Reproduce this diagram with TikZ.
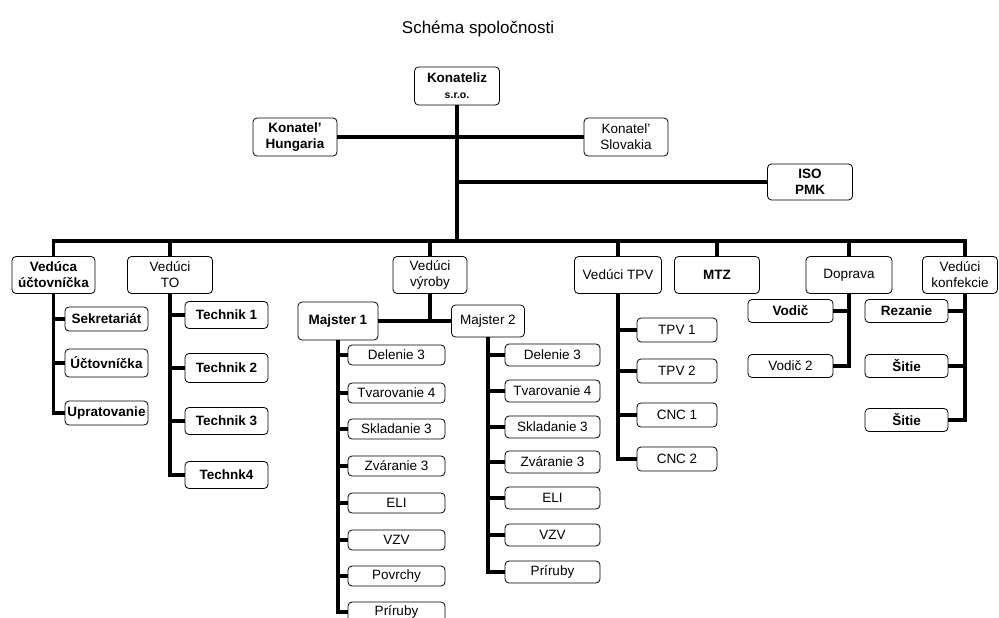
\documentclass[tikz,border=0pt]{standalone}
\usepackage{fontspec}
\setmainfont{Liberation Sans}
\tikzset{
	orgbox/.style 2 args={
		rectangle,
		rounded corners=4pt,
		draw=black, line width=0.8pt,
		fill=white,
		minimum width=#1,
		minimum height=#2,
		inner sep=1pt,
		align=center,
		font=\fontsize{13.5}{16}\selectfont},
	strong/.style={font=\fontsize{13.5}{16}\selectfont\bfseries},
	link/.style={draw, line width=3.5pt},
}
\begin{document}
\begin{tikzpicture}[x=1pt,y=-1pt]
	\useasboundingbox (0,0) rectangle (999,618);
	\node[font=\fontsize{17}{19}\selectfont] (title) at (478,29) {Schéma spoločnosti};

	% vedenie
	\node[orgbox={85pt}{38pt}, strong] (konateliz) at (457,86) {Konateliz\\{\fontsize{10.5}{12}\selectfont s.r.o.}};
	\node[orgbox={84pt}{38pt}, strong] (hungaria) at (295,137) {Konatel'\\Hungaria};
	\node[orgbox={84pt}{38pt}] (slovakia) at (626,137) {Konatel'\\Slovakia};
	\node[orgbox={85pt}{36pt}, strong] (iso) at (810,182) {ISO\\PMK};
	\coordinate (bus) at (457,241);

	\node[orgbox={83pt}{37pt}, strong] (veducua) at (53.5,275) {Vedúca\\účtovníčka};
	\node[orgbox={85pt}{37pt}] (vedto) at (170,275) {Vedúci\\TO};
	\node[orgbox={74pt}{37pt}] (vedvyroby) at (430,275) {Vedúci\\výroby};
	\node[orgbox={87pt}{37pt}] (vedtpv) at (618,275) {Vedúci TPV};
	\node[orgbox={85pt}{37pt}, strong] (mtz) at (717,275) {MTZ};
	\node[orgbox={86pt}{37pt}] (doprava) at (849,275) {Doprava};
	\node[orgbox={75pt}{37pt}] (vedkonf) at (960,275) {Vedúci\\konfekcie};
	\coordinate (konftop) at ([xshift=5pt]vedkonf.north);
	\coordinate (konfdrop) at ([xshift=5pt]vedkonf.south);

	\draw[link] (konateliz.south) -- (bus);
	\draw[link] (hungaria.east) -- (slovakia.west);
	\draw[link] (iso.west) -- (iso.west -| konateliz.south);
	\draw[link] (veducua.north) |- (bus);
	\draw[link] (konftop) |- (bus);
	\draw[link] (vedto.north) -- (vedto.north |- bus);
	\draw[link] (vedvyroby.north) -- (vedvyroby.north |- bus);
	\draw[link] (vedtpv.north) -- (vedtpv.north |- bus);
	\draw[link] (mtz.north) -- (mtz.north |- bus);
	\draw[link] (doprava.north) -- (doprava.north |- bus);

	% uctovnictvo
	\node[orgbox={83pt}{24pt}, strong] (sekretariat) at (106.5,319) {Sekretariát};
	\node[orgbox={83pt}{28pt}, strong] (uctovnicka) at (106.5,363) {Účtovníčka};
	\node[orgbox={83pt}{24pt}, strong] (upratovanie) at (106.5,413) {Upratovanie};
	\draw[link] (veducua.south) |- (upratovanie.west);
	\draw[link] (sekretariat.west) -- (sekretariat.west -| veducua.south);
	\draw[link] (uctovnicka.west) -- (uctovnicka.west -| veducua.south);

	% TO
	\node[orgbox={83pt}{27pt}, strong] (technik1) at (226.5,315) {Technik 1};
	\node[orgbox={83pt}{29pt}, strong] (technik2) at (226.5,368) {Technik 2};
	\node[orgbox={83pt}{27pt}, strong] (technik3) at (226.5,421) {Technik 3};
	\node[orgbox={83pt}{27pt}, strong] (technik4) at (226.5,475) {Technk4};
	\draw[link] (vedto.south) |- (technik4.west);
	\draw[link] (technik1.west) -- (technik1.west -| vedto.south);
	\draw[link] (technik2.west) -- (technik2.west -| vedto.south);
	\draw[link] (technik3.west) -- (technik3.west -| vedto.south);

	% vyroba
	\node[orgbox={80pt}{38pt}, strong] (majster1) at (338,321) {Majster 1};
	\node[orgbox={73pt}{32pt}] (majster2) at (488,321) {Majster 2};
	\draw[link] (majster1.east) -- (majster2.west);
	\draw[link] (vedvyroby.south) -- (vedvyroby.south |- majster1.east);

	\node[orgbox={97pt}{20pt}] (mjadelenie) at (396.5,355) {Delenie 3};
	\node[orgbox={97pt}{20pt}] (mjatvar) at (396.5,393) {Tvarovanie 4};
	\node[orgbox={97pt}{20pt}] (mjasklad) at (396.5,429) {Skladanie 3};
	\node[orgbox={97pt}{20pt}] (mjazvar) at (396.5,466) {Zváranie 3};
	\node[orgbox={97pt}{20pt}] (mjaeli) at (396.5,503) {ELI};
	\node[orgbox={97pt}{20pt}] (mjavzv) at (396.5,540) {VZV};
	\node[orgbox={97pt}{20pt}] (mjapovrchy) at (396.5,576) {Povrchy};
	\node[orgbox={97pt}{20pt}] (mjapriruby) at (396.5,612) {Príruby};
	\draw[link] (majster1.south) |- (mjapriruby.west);
	\draw[link] (mjadelenie.west) -- (mjadelenie.west -| majster1.south);
	\draw[link] (mjatvar.west) -- (mjatvar.west -| majster1.south);
	\draw[link] (mjasklad.west) -- (mjasklad.west -| majster1.south);
	\draw[link] (mjazvar.west) -- (mjazvar.west -| majster1.south);
	\draw[link] (mjaeli.west) -- (mjaeli.west -| majster1.south);
	\draw[link] (mjavzv.west) -- (mjavzv.west -| majster1.south);
	\draw[link] (mjapovrchy.west) -- (mjapovrchy.west -| majster1.south);

	\node[orgbox={95pt}{22pt}] (mjbdelenie) at (552.5,355) {Delenie 3};
	\node[orgbox={95pt}{22pt}] (mjbtvar) at (552.5,391) {Tvarovanie 4};
	\node[orgbox={95pt}{22pt}] (mjbsklad) at (552.5,427) {Skladanie 3};
	\node[orgbox={95pt}{22pt}] (mjbzvar) at (552.5,462) {Zváranie 3};
	\node[orgbox={95pt}{22pt}] (mjbeli) at (552.5,498) {ELI};
	\node[orgbox={95pt}{22pt}] (mjbvzv) at (552.5,535) {VZV};
	\node[orgbox={95pt}{22pt}] (mjbpriruby) at (552.5,572) {Príruby};
	\draw[link] (majster2.south) |- (mjbpriruby.west);
	\draw[link] (mjbdelenie.west) -- (mjbdelenie.west -| majster2.south);
	\draw[link] (mjbtvar.west) -- (mjbtvar.west -| majster2.south);
	\draw[link] (mjbsklad.west) -- (mjbsklad.west -| majster2.south);
	\draw[link] (mjbzvar.west) -- (mjbzvar.west -| majster2.south);
	\draw[link] (mjbeli.west) -- (mjbeli.west -| majster2.south);
	\draw[link] (mjbvzv.west) -- (mjbvzv.west -| majster2.south);

	% TPV
	\node[orgbox={80pt}{24pt}] (tpv1) at (677,330) {TPV 1};
	\node[orgbox={80pt}{24pt}] (tpv2) at (677,371) {TPV 2};
	\node[orgbox={80pt}{24pt}] (cnc1) at (677,415) {CNC 1};
	\node[orgbox={80pt}{24pt}] (cnc2) at (677,459) {CNC 2};
	\draw[link] (vedtpv.south) |- (cnc2.west);
	\draw[link] (tpv1.west) -- (tpv1.west -| vedtpv.south);
	\draw[link] (tpv2.west) -- (tpv2.west -| vedtpv.south);
	\draw[link] (cnc1.west) -- (cnc1.west -| vedtpv.south);

	% doprava
	\node[orgbox={85pt}{23pt}, strong] (vodic1) at (790.5,311) {Vodič};
	\node[orgbox={85pt}{23pt}] (vodic2) at (790.5,366) {Vodič 2};
	\draw[link] (doprava.south) |- (vodic2.east);
	\draw[link] (vodic1.east) -- (vodic1.east -| doprava.south);

	% konfekcia
	\node[orgbox={83pt}{23pt}, strong] (rezanie) at (906.5,311) {Rezanie};
	\node[orgbox={83pt}{23pt}, strong] (sitie1) at (906.5,366) {Šitie};
	\node[orgbox={83pt}{23pt}, strong] (sitie2) at (906.5,420) {Šitie};
	\draw[link] (konfdrop) |- (sitie2.east);
	\draw[link] (rezanie.east) -- (rezanie.east -| konfdrop);
	\draw[link] (sitie1.east) -- (sitie1.east -| konfdrop);
\end{tikzpicture}
\end{document}
